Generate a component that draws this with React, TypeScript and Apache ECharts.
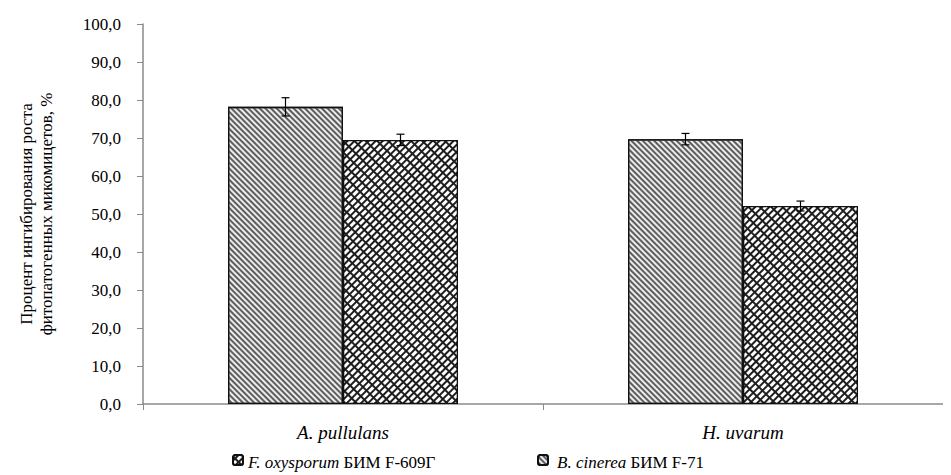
import React, { useEffect, useRef } from "react";
import * as echarts from "echarts";

const categories = ["A. pullulans", "H. uvarum"];
const seriesNames = ["F. oxysporum БИМ F-609Г", "B. cinerea БИМ F-71"];
const legendItalic = ["F. oxysporum", "B. cinerea"];
const legendPlain = ["БИМ F-609Г", "БИМ F-71"];
// bar order in the picture: dense diagonal bar first, crosshatch second
const denseValues = [78.2, 69.7];
const denseErrors = [2.4, 1.5];
const crossValues = [69.5, 52.1];
const crossErrors = [1.5, 1.3];
const yTicks = [0, 10, 20, 30, 40, 50, 60, 70, 80, 90, 100];

const GAP = 0.425;
const GRID_LEFT = 125;

export default function App() {
  const ref = useRef<HTMLDivElement>(null);
  useEffect(() => {
    if (!ref.current) return;
    const chart = echarts.init(ref.current, undefined, { renderer: "svg" });
    const serif = "Liberation Serif";
    const axisColor = "#8a8a8a";

    const errRender = (offSign: number, errs: number[]) => (params: any, api: any) => {
      const idx = api.value(0);
      const val = api.value(1);
      const err = errs[params.dataIndex];
      const band = api.size([1, 0])[0];
      const bw = (band * (1 - GAP)) / 2;
      const c = api.coord([idx, val]);
      const x = c[0] + (offSign * bw) / 2;
      const top = api.coord([idx, val + err])[1];
      const bot = api.coord([idx, val - err])[1];
      const hw = 4;
      const st = { stroke: "#000", lineWidth: 1.2, fill: null };
      return {
        type: "group",
        children: [
          { type: "line", shape: { x1: x, y1: top, x2: x, y2: bot }, style: st },
          { type: "line", shape: { x1: x - hw, y1: top, x2: x + hw, y2: top }, style: st },
          { type: "line", shape: { x1: x - hw, y1: bot, x2: x + hw, y2: bot }, style: st },
        ],
      };
    };

    chart.setOption({
      animation: false,
      backgroundColor: "#ffffff",
      aria: { enabled: true, decal: { show: true } },
      grid: { left: GRID_LEFT, right: -18, top: 16, bottom: 71 },
      legend: {
        top: 446,
        left: 224,
        padding: 0,
        itemGap: 293,
        itemWidth: 10,
        itemHeight: 10,
        data: [seriesNames[0], seriesNames[1]],
        formatter: () => "",
        textStyle: { fontFamily: serif, fontSize: 17, color: "#000" },
      },
      xAxis: {
        type: "category",
        data: categories,
        axisLine: { lineStyle: { color: axisColor, width: 1.5 } },
        axisTick: { show: true, length: 6, lineStyle: { color: axisColor } },
        axisLabel: { show: false },
      },
      yAxis: {
        type: "value",
        min: 0,
        max: 100,
        interval: 10,
        splitLine: { show: false },
        axisLine: { show: true, lineStyle: { color: axisColor, width: 1.5 } },
        axisTick: { show: true, length: 6, lineStyle: { color: axisColor } },
        axisLabel: { show: false },
        name: "Процент ингибирования роста\nфитопатогенных микомицетов, %",
        nameLocation: "middle",
        nameGap: 87,
        nameTextStyle: { fontFamily: serif, fontSize: 17, color: "#000", lineHeight: 20 },
      },
      series: [
        {
          name: seriesNames[1],
          type: "bar",
          data: denseValues,
          barGap: "0%",
          barCategoryGap: GAP * 100 + "%",
          itemStyle: {
            color: "#ececec",
            borderColor: "#111",
            borderWidth: 1.3,
            decal: {
              symbol: "rect",
              symbolSize: 1,
              color: "#5e5e5e",
              dashArrayX: [1, 0],
              dashArrayY: [1.2, 1.6],
              rotation: Math.PI / 4,
            },
          },
        },
        {
          name: seriesNames[0],
          type: "bar",
          data: crossValues,
          itemStyle: {
            color: "#1e1e1e",
            borderColor: "#111",
            borderWidth: 1.3,
            decal: {
              symbol: "rect",
              symbolSize: 1,
              color: "#ffffff",
              dashArrayX: [6, 1.4],
              dashArrayY: [3, 1.2],
              rotation: -Math.PI / 4,
            },
          },
        },
        {
          type: "custom",
          renderItem: errRender(-1, denseErrors),
          data: denseValues.map((v, i) => [i, v]),
          encode: { x: 0, y: 1 },
          itemStyle: { decal: "none" },
          z: 10,
        },
        {
          type: "custom",
          renderItem: errRender(1, crossErrors),
          data: crossValues.map((v, i) => [i, v]),
          encode: { x: 0, y: 1 },
          itemStyle: { decal: "none" },
          z: 10,
        },
      ],
    });

    // axis tick labels and legend texts, placed through the library's own axis scales
    const graphics: any[] = [];
    yTicks.forEach((v) => {
      const y = chart.convertToPixel({ yAxisIndex: 0 }, v) as number;
      graphics.push({
        type: "text",
        x: GRID_LEFT - 12,
        y,
        silent: true,
        style: {
          text: v.toFixed(1).replace(".", ","),
          fontFamily: serif,
          fontSize: 17,
          fill: "#000",
          textAlign: "right",
          textVerticalAlign: "middle",
        },
      });
    });
    const y0 = chart.convertToPixel({ yAxisIndex: 0 }, 0) as number;
    categories.forEach((c) => {
      const x = chart.convertToPixel({ xAxisIndex: 0 }, c) as number;
      graphics.push({
        type: "text",
        x,
        y: y0 + 28,
        silent: true,
        style: {
          text: c,
          fontFamily: serif,
          fontSize: 19,
          fontStyle: "italic",
          fill: "#000",
          textAlign: "center",
          textVerticalAlign: "middle",
        },
      });
    });
    const legendY = 454;
    const legendX = [240, 549];
    legendItalic.forEach((t, i) => {
      graphics.push({
        type: "text",
        x: legendX[i],
        y: legendY,
        silent: true,
        style: {
          text: "{i|" + t + "}{n| " + legendPlain[i] + "}",
          fontFamily: serif,
          fontSize: 17,
          fill: "#000",
          textAlign: "left",
          textVerticalAlign: "middle",
          rich: {
            i: { fontFamily: serif, fontSize: 17, fontStyle: "italic", fill: "#000" },
            n: { fontFamily: serif, fontSize: 17, fill: "#000" },
          },
        },
      });
    });
    chart.setOption({ graphic: graphics });

    return () => chart.dispose();
  }, []);
  return <div ref={ref} style={{ width: 935, height: 467 }} />;
}
